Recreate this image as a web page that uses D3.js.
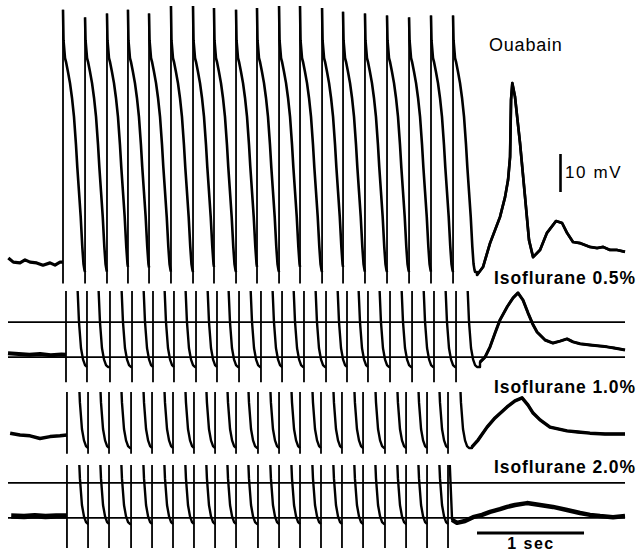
<!DOCTYPE html>
<html>
<head>
<meta charset="utf-8">
<script src="https://cdn.jsdelivr.net/npm/d3@7"></script>
<style>
  body { margin: 0; background: #fff; }
  svg { display: block; }
  text { font-family: "Liberation Sans", Arial, Helvetica, sans-serif; fill: #000; }
</style>
</head>
<body>
<div id="chart"></div>
<script>
// stimulus times (s)
const stimOuabain = [0.514, 0.720, 0.925, 1.121, 1.318, 1.523, 1.729, 1.925, 2.131, 2.327,
  2.533, 2.729, 2.935, 3.131, 3.336, 3.542, 3.748, 3.953, 4.159];
const stimIso05 = [0.542, 0.738, 0.953, 1.159, 1.355, 1.551, 1.757, 1.953, 2.159, 2.364,
  2.561, 2.766, 2.972, 3.168, 3.364, 3.570, 3.776, 3.981, 4.187];
const stimIso = [0.551, 0.748, 0.944, 1.150, 1.346, 1.542, 1.738, 1.935, 2.131, 2.336,
  2.533, 2.729, 2.925, 3.121, 3.318, 3.523, 3.720, 3.916, 4.112];

// peak of each paced action potential in the ouabain sweep (mV)
const peaksOuabain = [-19, -21, -20, -19, -20, -18, -18, -18.5, -19, -18.5,
  -18, -18, -18.5, -19.5, -20, -20.5, -21, -20.5, -20.5];

// action potential shape after the upstroke (ms, mV); first value is replaced by the peak
const apOuabainMs = [0, 4.7, 18.7, 28, 46.7, 65.4, 84.1, 102.8, 121.5, 133.6, 149.5, 165.4, 180.4, 191.6, 200.9, 206, 260];
const apOuabainMv = [-20, -27, -31.7, -32.7, -35.4, -38.3, -42.2, -47.2, -54.6, -60.4, -66.9, -73.5, -81.4, -85.9, -87.5, -88, -88];
const apIsoMs = [0, 5, 19, 28, 47, 65, 84, 100, 109, 121, 140, 159, 178, 196, 260];
const apIsoMv = [-20, -27, -32, -33, -37, -43, -52, -62, -68, -76, -83, -86, -87.5, -88, -88];

// resting traces before pacing [s, mV]
const preOuabain = [[0.003, -84.3], [0.05, -85.4], [0.112, -85.6], [0.159, -84.8], [0.206, -85.4],
  [0.268, -85.6], [0.327, -86.2], [0.393, -85.6], [0.439, -86.2], [0.486, -85.4], [0.514, -85.4]];
const preIso05 = [[0, -84.4], [0.1, -84.6], [0.2, -84.8], [0.3, -84.6], [0.4, -84.9], [0.5, -84.7], [0.542, -84.8]];
const preIso10 = [[0.02, -84.1], [0.112, -84.6], [0.206, -84.8], [0.299, -85.5], [0.393, -85.0], [0.486, -84.8], [0.551, -84.6]];
const preIso20 = [[0.03, -85.9], [0.15, -86.0], [0.25, -85.8], [0.35, -86.0], [0.45, -85.9], [0.551, -85.9]];

// traces after the last stimulus [s, mV]
const postOuabain = [[4.383, -88.8], [4.439, -86.7], [4.505, -80.4], [4.598, -73.5], [4.645, -68.3],
  [4.673, -63.8], [4.692, -57.7], [4.701, -42.7], [4.713, -38.3], [4.738, -41.9], [4.785, -54.1],
  [4.832, -68.3], [4.869, -79.6], [4.907, -84.1], [4.972, -82.2], [5.037, -77.7], [5.121, -74.6],
  [5.178, -75.1], [5.224, -77.7], [5.280, -80.1], [5.346, -80.4], [5.439, -81.4], [5.505, -81.7],
  [5.561, -81.4], [5.626, -82.2], [5.692, -82.2], [5.766, -82.7]];
const postIso05 = [[4.411, -86.7], [4.458, -85.4], [4.505, -82.7], [4.551, -79.1], [4.598, -75.6],
  [4.664, -72.2], [4.720, -69.8], [4.766, -68.5], [4.813, -70.4], [4.860, -73.8], [4.907, -76.9],
  [4.944, -78.8], [5.019, -80.9], [5.093, -81.7], [5.159, -81.2], [5.224, -80.6], [5.280, -81.4],
  [5.346, -81.9], [5.439, -82.2], [5.533, -82.5], [5.598, -82.7], [5.664, -83.0], [5.766, -83.5]];
const postIso10 = [[4.336, -87.7], [4.393, -85.9], [4.477, -82.5], [4.551, -80.1], [4.664, -77.2],
  [4.738, -75.6], [4.804, -74.8], [4.860, -76.7], [4.907, -78.8], [4.972, -80.6], [5.065, -82.5],
  [5.224, -83.5], [5.327, -83.8], [5.439, -84.1], [5.579, -84.3], [5.766, -84.3]];
const postIso20 = [[4.125, -70], [4.150, -86.9], [4.196, -87.7], [4.271, -87.2], [4.346, -86.2],
  [4.430, -85.6], [4.505, -84.8], [4.598, -84.1], [4.664, -83.5], [4.738, -83.0], [4.850, -82.5],
  [4.972, -83.0], [5.093, -83.5], [5.224, -84.3], [5.346, -85.1], [5.439, -85.6], [5.533, -85.9],
  [5.654, -86.2], [5.766, -85.9]];

// horizontal reference lines (mV)
const refIso05 = [-76.2, -85.4];
const refIso20 = [-77.2, -86.4];

const labels = ["Ouabain", "Isoflurane 0.5%", "Isoflurane 1.0%", "Isoflurane 2.0%"];

const width = 642;
const height = 551;
const pxPerMv = 3.8;

const svg = d3.select("#chart").append("svg")
  .attr("width", width)
  .attr("height", height);

const x = d3.scaleLinear().domain([0, 5.766]).range([8, 625]);

const panels = [
  { label: labels[0], stim: stimOuabain, peaks: peaksOuabain, pre: preOuabain, post: postOuabain,
    apMs: apOuabainMs, apMv: apOuabainMv, thickFrom: 0, apW: 2.6,
    refs: [], mdpY: 272, top: 0, bottom: 289, artifact: -91, preW: 3.2, postW: 2.7,
    labelX: 489, labelY: 51, labelW: "normal", labelSize: 18, labelSpacing: 0.8 },
  { label: labels[1], stim: stimIso05, peaks: null, pre: preIso05, post: postIso05,
    apMs: apIsoMs, apMv: apIsoMv, thickFrom: 0, apW: 2.4,
    refs: refIso05, mdpY: 367, top: 291, bottom: 384, artifact: -92, preW: 4, postW: 3,
    labelX: 494, labelY: 284, labelW: "bold", labelSize: 17.5, labelSpacing: 0.9 },
  { label: labels[2], stim: stimIso, peaks: null, pre: preIso10, post: postIso10,
    apMs: apIsoMs, apMv: apIsoMv, thickFrom: 0, apW: 2.4,
    refs: [], mdpY: 448, top: 392, bottom: 455, artifact: -89.5, preW: 3.5, postW: 3.4,
    labelX: 494, labelY: 393, labelW: "bold", labelSize: 17.5, labelSpacing: 0.9 },
  { label: labels[3], stim: stimIso, peaks: null, pre: preIso20, post: postIso20,
    apMs: apIsoMs, apMv: apIsoMv, thickFrom: 1, apW: 2.4,
    refs: refIso20, mdpY: 524, top: 465, bottom: 549, artifact: -94.3, preW: 5.5, postW: 4.5,
    labelX: 494, labelY: 473, labelW: "bold", labelSize: 17.5, labelSpacing: 0.9 }
];

const line = d3.line().x(d => x(d[0])).y(d => d.y);

// points of one action potential from tStim, cut at tEnd
function apPoints(ms, mv, tStim, peak, tEnd) {
  const pts = [];
  const val = i => (i === 0 ? peak : mv[i]);
  for (let i = 0; i < ms.length; i++) {
    const t = tStim + ms[i] / 1000;
    if (t >= tEnd) {
      const t0 = tStim + ms[i - 1] / 1000;
      const f = (tEnd - t0) / (t - t0);
      pts.push([tEnd, val(i - 1) + f * (val(i) - val(i - 1))]);
      break;
    }
    pts.push([t, val(i)]);
  }
  return pts;
}

panels.forEach((p, pi) => {
  const y = d3.scaleLinear()
    .domain([-88, -19])
    .range([p.mdpY, p.mdpY - 69 * pxPerMv]);
  const toXY = pts => pts.map(d => { const o = [d[0], d[1]]; o.y = y(d[1]); return o; });

  const clipId = "clip" + pi;
  svg.append("clipPath").attr("id", clipId)
    .append("rect").attr("x", 0).attr("y", p.top)
    .attr("width", width).attr("height", p.bottom - p.top);

  const g = svg.append("g").attr("clip-path", `url(#${clipId})`);

  // reference lines
  g.selectAll(".ref").data(p.refs).enter().append("line")
    .attr("x1", x(0)).attr("x2", x(5.766))
    .attr("y1", d => y(d)).attr("y2", d => y(d))
    .attr("stroke", "#000").attr("stroke-width", 1.8);

  // resting trace
  g.append("path").datum(toXY(p.pre))
    .attr("d", line).attr("fill", "none")
    .attr("stroke", "#000").attr("stroke-width", p.preW)
    .attr("stroke-linejoin", "round");

  // paced action potentials
  p.stim.forEach((ts, i) => {
    const peak = p.peaks ? p.peaks[i] : -20;
    const last = i === p.stim.length - 1;
    const tEnd = last ? p.post[0][0] : p.stim[i + 1];
    let pts = apPoints(p.apMs, p.apMv, ts, peak, tEnd);
    if (last) pts = pts.concat(p.post);
    g.append("path").datum(toXY(pts))
      .attr("d", line).attr("fill", "none")
      .attr("stroke", "#000").attr("stroke-width", p.apW)
      .attr("stroke-linejoin", "round");
  });

  // after-depolarisation drawn heavier
  g.append("path").datum(toXY(p.post.slice(p.thickFrom)))
    .attr("d", line).attr("fill", "none")
    .attr("stroke", "#000").attr("stroke-width", p.postW)
    .attr("stroke-linejoin", "round");

  // upstrokes / stimulus artifacts
  g.selectAll(".stim").data(p.stim).enter().append("line")
    .attr("x1", d => x(d)).attr("x2", d => x(d))
    .attr("y1", y(p.artifact))
    .attr("y2", (d, i) => y(p.peaks ? p.peaks[i] : -20))
    .attr("stroke", "#000").attr("stroke-width", 1.8);

  svg.append("text")
    .attr("x", p.labelX).attr("y", p.labelY)
    .style("font-size", p.labelSize + "px")
    .style("font-weight", p.labelW)
    .style("letter-spacing", p.labelSpacing + "px")
    .text(p.label);

  if (pi === 0) {
    // 10 mV calibration
    const top = 154;
    const len = y(-80) - y(-70);
    svg.append("line")
      .attr("x1", 560.5).attr("x2", 560.5)
      .attr("y1", top).attr("y2", top + len)
      .attr("stroke", "#000").attr("stroke-width", 2.6);
    svg.append("text").attr("x", 565).attr("y", 178)
      .style("font-size", "17px").style("letter-spacing", "1.6px")
      .text("10 mV");
  }
});

// 1 sec calibration
svg.append("line")
  .attr("x1", x(4.383)).attr("x2", x(5.383))
  .attr("y1", 533).attr("y2", 533)
  .attr("stroke", "#000").attr("stroke-width", 2.8);
svg.append("text").attr("x", 531).attr("y", 549)
  .attr("text-anchor", "middle")
  .style("font-size", "16px").style("font-weight", "bold").style("letter-spacing", "1.5px")
  .text("1 sec");
</script>
</body>
</html>
